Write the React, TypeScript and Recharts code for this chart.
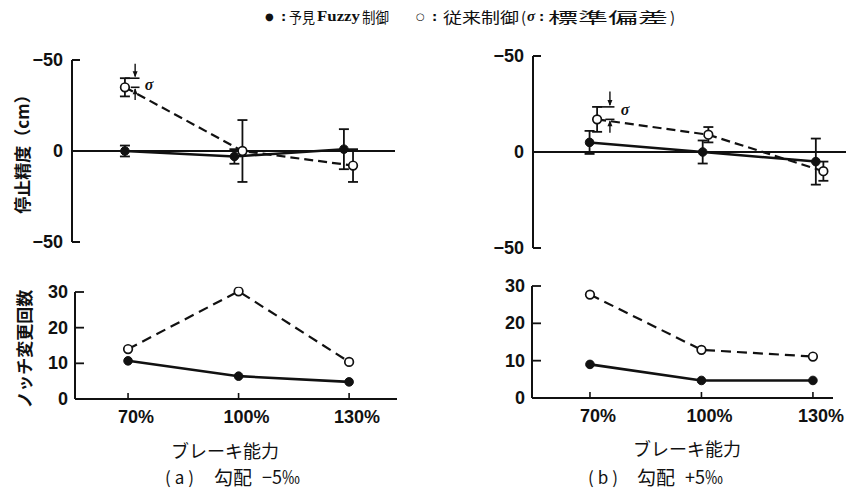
import React from 'react';
import { ComposedChart, Line, XAxis, YAxis, ReferenceLine, ReferenceDot, ErrorBar } from 'recharts';

// ---------- data ----------
const categories = [70, 100, 130];
const xTickLabels = ['70%', '100%', '130%'];
const accTickValues = [-50, 0, 50];
const accTickLabels = ['−50', '0', '−50'];
const countTickValues = [0, 10, 20, 30];

// (a) gradient -5‰ : stopping accuracy (cm), chart axis reversed (top = -50)
const aFuzzyAcc = [0, 3, -1];
const aFuzzyAccSd = [3, 4, 11];
const aConvX = [70, 102.2, 132.5];
const aConvAcc = [-35, 0, 8];
const aConvAccSd = [5, 17, 9];
// (a) notch change count
const aFuzzyNotch = [10.7, 6.4, 4.8];
const aConvNotch = [14, 30.2, 10.4];

// (b) gradient +5‰
const bFuzzyAcc = [-5, 0, 5];
const bFuzzyAccSd = [6, 6, 12];
const bConvX = [72, 101.5, 132];
const bConvAcc = [-17, -9, 10];
const bConvAccSd = [6.5, 4, 5];
const bFuzzyNotch = [9, 4.7, 4.7];
const bConvNotch = [27.7, 12.9, 11.1];

// ---------- helpers ----------
const mk = (xs: number[], ys: number[], es?: number[]) =>
  xs.map((x, i) => ({ x, y: ys[i], e: es ? es[i] : 0 }));

const INK = '#111';
const CJK = '"Noto Sans CJK JP", "Noto Sans CJK SC", sans-serif';
const NUM = '"Liberation Sans", Arial, sans-serif';

const AccTick = (props: any) => {
  const { x, y, payload } = props;
  const i = accTickValues.indexOf(payload.value);
  return (
    <text x={x} y={y} textAnchor="end" dominantBaseline="central" fontFamily={NUM} fontSize={18} fontWeight="bold" fill={INK}>
      {accTickLabels[i]}
    </text>
  );
};

const CountTick = (props: any) => {
  const { x, y, payload } = props;
  return (
    <text x={x} y={y} textAnchor="end" dominantBaseline="central" fontFamily={NUM} fontSize={18} fontWeight="bold" fill={INK}>
      {String(payload.value)}
    </text>
  );
};

const XTick = (props: any) => {
  const { x, y, payload } = props;
  const i = categories.indexOf(payload.value);
  return (
    <text x={x + 8} y={y} textAnchor="middle" dominantBaseline="central" fontFamily={NUM} fontSize={18} fontWeight="bold" fill={INK}>
      {xTickLabels[i]}
    </text>
  );
};

const arrowDown = (p: any) => (
  <path d={`M${p.cx - 2.5},${p.cy - 6}L${p.cx + 2.5},${p.cy - 6}L${p.cx},${p.cy}Z`} fill={INK} />
);
const arrowUp = (p: any) => (
  <path d={`M${p.cx - 2.5},${p.cy + 6}L${p.cx + 2.5},${p.cy + 6}L${p.cx},${p.cy}Z`} fill={INK} />
);
const sigmaLabel = (p: any) => (
  <text x={p.cx} y={p.cy} textAnchor="middle" dominantBaseline="central" fontFamily='"Liberation Serif", serif' fontStyle="italic" fontWeight="bold" fontSize={16} fill={INK}>
    σ
  </text>
);

const filledDot = { r: 4.3, fill: INK, stroke: INK, strokeWidth: 1, clipDot: false };
const openDot = { r: 4.3, fill: '#fff', stroke: INK, strokeWidth: 1.7, strokeDasharray: '0', clipDot: false };

type SigmaSpec = { x: number; top: number; mid: number; capFrom: number; label: [number, number] };

function AccPanel(props: {
  left: number; width: number; yAxisW: number; margin: any; domain: [number, number];
  fuzzy: number[]; fuzzySd: number[]; convX: number[]; conv: number[]; convSd: number[]; sigma: SigmaSpec;
}) {
  const { left, width, yAxisW, margin, domain, fuzzy, fuzzySd, convX, conv, convSd, sigma } = props;
  return (
    <div style={{ position: 'absolute', left, top: 0 }}>
      <ComposedChart width={width} height={260} margin={margin}>
        <XAxis dataKey="x" type="number" domain={domain} hide allowDataOverflow />
        <YAxis
          type="number" domain={[-50, 50]} reversed ticks={accTickValues} interval={0}
          width={yAxisW} tick={<AccTick />} tickSize={-8} tickMargin={17}
          axisLine={{ stroke: INK, strokeWidth: 2 }} tickLine={{ stroke: INK, strokeWidth: 2 }}
          allowDataOverflow
        />
        <ReferenceLine y={0} stroke={INK} strokeWidth={1.8} />
        <Line data={mk(categories, fuzzy, fuzzySd)} dataKey="y" stroke={INK} strokeWidth={2.5} dot={filledDot} isAnimationActive={false}>
          <ErrorBar dataKey="e" direction="y" width={5} stroke={INK} strokeWidth={1.8} />
        </Line>
        <Line data={mk(convX, conv, convSd)} dataKey="y" stroke={INK} strokeWidth={2.2} strokeDasharray="9 5" dot={openDot} isAnimationActive={false}>
          <ErrorBar dataKey="e" direction="y" width={5} stroke={INK} strokeWidth={1.8} />
        </Line>
        {/* σ annotation */}
        <ReferenceLine segment={[{ x: sigma.capFrom, y: sigma.top }, { x: sigma.x + 1.2, y: sigma.top }]} stroke={INK} strokeWidth={1.6} />
        <ReferenceLine segment={[{ x: sigma.x - 1.2, y: sigma.mid }, { x: sigma.x + 1.2, y: sigma.mid }]} stroke={INK} strokeWidth={1.6} />
        <ReferenceLine segment={[{ x: sigma.x, y: sigma.top - 8 }, { x: sigma.x, y: sigma.top - 1 }]} stroke={INK} strokeWidth={1.4} />
        <ReferenceLine segment={[{ x: sigma.x, y: sigma.mid + 7 }, { x: sigma.x, y: sigma.mid + 1 }]} stroke={INK} strokeWidth={1.4} />
        <ReferenceDot x={sigma.x} y={sigma.top - 0.5} shape={arrowDown} />
        <ReferenceDot x={sigma.x} y={sigma.mid + 0.5} shape={arrowUp} />
        <ReferenceDot x={sigma.label[0]} y={sigma.label[1]} shape={sigmaLabel} />
      </ComposedChart>
    </div>
  );
}

function CountPanel(props: {
  left: number; top: number; width: number; height: number; yAxisW: number; margin: any; domain: [number, number];
  fuzzy: number[]; conv: number[];
}) {
  const { left, top, width, height, yAxisW, margin, domain, fuzzy, conv } = props;
  return (
    <div style={{ position: 'absolute', left, top }}>
      <ComposedChart width={width} height={height} margin={margin}>
        <XAxis
          dataKey="x" type="number" domain={domain} ticks={categories} interval={0} height={30}
          tick={<XTick />} tickSize={-6} tickMargin={24}
          axisLine={{ stroke: INK, strokeWidth: 2 }} tickLine={{ stroke: INK, strokeWidth: 1.6 }}
          allowDataOverflow
        />
        <YAxis
          type="number" domain={[0, 30]} ticks={countTickValues} interval={0}
          width={yAxisW} tick={<CountTick />} tickSize={-9} tickMargin={16}
          axisLine={{ stroke: INK, strokeWidth: 2 }} tickLine={{ stroke: INK, strokeWidth: 1.8 }}
          allowDataOverflow
        />
        <Line data={mk(categories, fuzzy)} dataKey="y" stroke={INK} strokeWidth={2.6} dot={filledDot} isAnimationActive={false} />
        <Line data={mk(categories, conv)} dataKey="y" stroke={INK} strokeWidth={2.2} strokeDasharray="10 6" dot={openDot} isAnimationActive={false} />
      </ComposedChart>
    </div>
  );
}

const legendText = (x: number, s: string, len?: number, extra: any = {}) => (
  <text x={x} y={16} dominantBaseline="central" fontFamily={CJK} fontSize={15} fill={INK}
    {...(len ? { textLength: len, lengthAdjust: 'spacingAndGlyphs' } : {})} {...extra}>
    {s}
  </text>
);
const colon = { fontFamily: '"DejaVu Sans", sans-serif', fontWeight: 'bold', fontSize: 13 };
const mark = { fontFamily: '"DejaVu Sans", sans-serif', fontSize: 10 };

export default function App() {
  return (
    <div style={{ position: 'absolute', left: 0, top: 0, width: 846, height: 489, background: '#fff', overflow: 'hidden' }}>
      <AccPanel
        left={0} width={420} yAxisW={72} margin={{ top: 60, right: 25, bottom: 18, left: 0 }} domain={[55.5, 144]}
        fuzzy={aFuzzyAcc} fuzzySd={aFuzzyAccSd} convX={aConvX} conv={aConvAcc} convSd={aConvAccSd}
        sigma={{ x: 72.8, top: -40, mid: -35, capFrom: 70, label: [76.6, -36.5] }}
      />
      <AccPanel
        left={440} width={406} yAxisW={93} margin={{ top: 56, right: 0, bottom: 12, left: 0 }} domain={[55, 138]}
        fuzzy={bFuzzyAcc} fuzzySd={bFuzzyAccSd} convX={bConvX} conv={bConvAcc} convSd={bConvAccSd}
        sigma={{ x: 75.4, top: -23.5, mid: -17, capFrom: 72, label: [79.4, -22] }}
      />
      <CountPanel
        left={0} top={260} width={420} height={169} yAxisW={75} margin={{ top: 32, right: 23, bottom: 0, left: 0 }}
        domain={[55.6, 143]} fuzzy={aFuzzyNotch} conv={aConvNotch}
      />
      <CountPanel
        left={440} top={260} width={406} height={168} yAxisW={92} margin={{ top: 26, right: 13, bottom: 0, left: 0 }}
        domain={[54.4, 135.4]} fuzzy={bFuzzyNotch} conv={bConvNotch}
      />
      <svg width={846} height={489} style={{ position: 'absolute', left: 0, top: 0, pointerEvents: 'none' }}>
        {legendText(265, '●', undefined, mark)}
        {legendText(281, ':', undefined, colon)}
        {legendText(289, '予見', 26)}
        {legendText(317, 'Fuzzy', 43, { fontFamily: '"Liberation Serif", serif', fontWeight: 'bold' })}
        {legendText(362, '制御', 27)}
        {legendText(416, '○', undefined, mark)}
        {legendText(432, ':', undefined, colon)}
        {legendText(443, '従来制御', 76)}
        {legendText(521, '(')}
        {legendText(527, 'σ', undefined, { fontFamily: '"Liberation Serif", serif', fontStyle: 'italic', fontWeight: 'bold' })}
        {legendText(539, ':', undefined, colon)}
        {legendText(548, '標準偏差', 120)}
        {legendText(670, ')')}

        <text transform="translate(21,150) rotate(-90)" textAnchor="middle" dominantBaseline="central" fontFamily={CJK} fontWeight="bold" fontSize={17} fill={INK}>
          停止精度（cm）
        </text>
        <text transform="translate(23,349) rotate(-90)" textAnchor="middle" dominantBaseline="central" fontFamily={CJK} fontWeight="bold" fontSize={17} fill={INK}>
          ノッチ変更回数
        </text>
        <text x={225} y={450} textAnchor="middle" dominantBaseline="central" fontFamily={CJK} fontSize={18} fill={INK}>ブレーキ能力</text>
        <text x={687} y={448} textAnchor="middle" dominantBaseline="central" fontFamily={CJK} fontSize={18} fill={INK}>ブレーキ能力</text>

        <text x={165} y={476} dominantBaseline="central" fontFamily={CJK} fontSize={17} fill={INK} letterSpacing={4}>(a)</text>
        <text x={214} y={476} dominantBaseline="central" fontFamily={CJK} fontSize={19} fill={INK}>勾配</text>
        <text x={262} y={476} dominantBaseline="central" fontFamily={CJK} fontSize={18} fill={INK}>−5‰</text>

        <text x={588} y={476} dominantBaseline="central" fontFamily={CJK} fontSize={17} fill={INK} letterSpacing={4}>(b)</text>
        <text x={637} y={476} dominantBaseline="central" fontFamily={CJK} fontSize={19} fill={INK}>勾配</text>
        <text x={685} y={476} dominantBaseline="central" fontFamily={CJK} fontSize={18} fill={INK}>+5‰</text>
      </svg>
    </div>
  );
}
